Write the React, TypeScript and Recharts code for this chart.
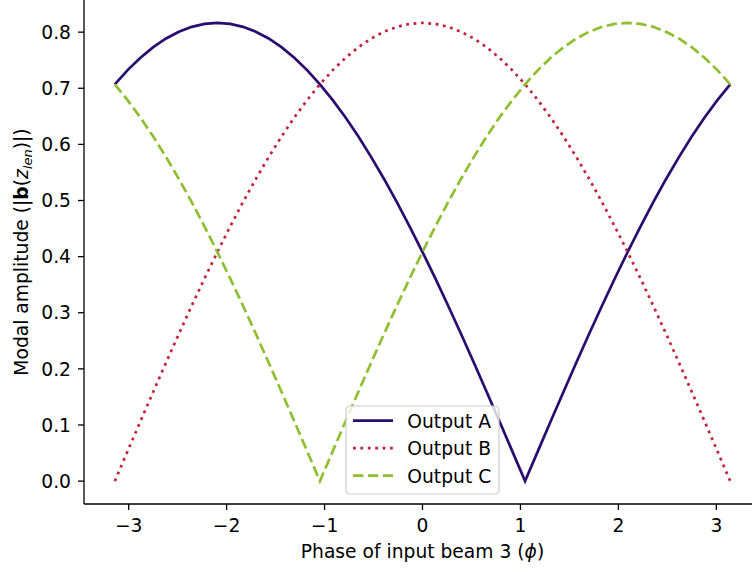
import React from "react";
import { LineChart, Line, XAxis, YAxis, Label } from "recharts";

const FONT = "'DejaVu Sans', 'Noto Sans', sans-serif";
const FS = 18.7;

// phase samples over [-π, π]
const phase = [
  -3.1416, -3.0107, -2.8798, -2.7489, -2.618, -2.4871, -2.3562, -2.2253, -2.0944, -1.9635,
  -1.8326, -1.7017, -1.5708, -1.4399, -1.309, -1.1781, -1.0472, -0.9163, -0.7854, -0.6545,
  -0.5236, -0.3927, -0.2618, -0.1309, 0, 0.1309, 0.2618, 0.3927, 0.5236, 0.6545,
  0.7854, 0.9163, 1.0472, 1.1781, 1.309, 1.4399, 1.5708, 1.7017, 1.8326, 1.9635,
  2.0944, 2.2253, 2.3562, 2.4871, 2.618, 2.7489, 2.8798, 3.0107, 3.1416,
];

const outputA = [
  0.7071, 0.7323, 0.7543, 0.7732, 0.7887, 0.8008, 0.8095, 0.8148, 0.8165, 0.8148,
  0.8095, 0.8008, 0.7887, 0.7732, 0.7543, 0.7323, 0.7071, 0.6789, 0.6478, 0.6139,
  0.5774, 0.5384, 0.4971, 0.4536, 0.4082, 0.3611, 0.3125, 0.2625, 0.2113, 0.1593,
  0.1066, 0.0534, 0, 0.0534, 0.1066, 0.1593, 0.2113, 0.2625, 0.3125, 0.3611,
  0.4082, 0.4536, 0.4971, 0.5384, 0.5774, 0.6139, 0.6478, 0.6789, 0.7071,
];

const outputB = [
  0, 0.0534, 0.1066, 0.1593, 0.2113, 0.2625, 0.3125, 0.3611, 0.4082, 0.4536,
  0.4971, 0.5384, 0.5774, 0.6139, 0.6478, 0.6789, 0.7071, 0.7323, 0.7543, 0.7732,
  0.7887, 0.8008, 0.8095, 0.8148, 0.8165, 0.8148, 0.8095, 0.8008, 0.7887, 0.7732,
  0.7543, 0.7323, 0.7071, 0.6789, 0.6478, 0.6139, 0.5774, 0.5384, 0.4971, 0.4536,
  0.4082, 0.3611, 0.3125, 0.2625, 0.2113, 0.1593, 0.1066, 0.0534, 0,
];

const outputC = [
  0.7071, 0.6789, 0.6478, 0.6139, 0.5774, 0.5384, 0.4971, 0.4536, 0.4082, 0.3611,
  0.3125, 0.2625, 0.2113, 0.1593, 0.1066, 0.0534, 0, 0.0534, 0.1066, 0.1593,
  0.2113, 0.2625, 0.3125, 0.3611, 0.4082, 0.4536, 0.4971, 0.5384, 0.5774, 0.6139,
  0.6478, 0.6789, 0.7071, 0.7323, 0.7543, 0.7732, 0.7887, 0.8008, 0.8095, 0.8148,
  0.8165, 0.8148, 0.8095, 0.8008, 0.7887, 0.7732, 0.7543, 0.7323, 0.7071,
];

const xTicks = [-3, -2, -1, 0, 1, 2, 3];
const yTicks = [0, 0.1, 0.2, 0.3, 0.4, 0.5, 0.6, 0.7, 0.8];

const series = [
  { key: "a", name: "Output A", color: "#2b0c6e", dash: undefined as string | undefined },
  { key: "b", name: "Output B", color: "#c4213f", dash: "2.8 4.6" },
  { key: "c", name: "Output C", color: "#8dbf31", dash: "10.4 4.5" },
];

const rows = phase.map((p, i) => ({ phase: p, a: outputA[i], b: outputB[i], c: outputC[i] }));

const axisStyle = { stroke: "#000", strokeWidth: 1.3 };
const tickStyle = { fill: "#000", fontSize: FS, fontFamily: FONT };

function XTitle() {
  return (
    <text x={422.5} y={558} textAnchor="middle" fontFamily={FONT} fontSize={FS} fill="#000">
      Phase of input beam 3 (<tspan fontStyle="italic">ϕ</tspan>)
    </text>
  );
}

function YTitle() {
  return (
    <text
      x={28}
      y={252}
      transform="rotate(-90, 28, 252)"
      textAnchor="middle"
      fontFamily={FONT}
      fontSize={FS}
      fill="#000"
    >
      Modal amplitude (|<tspan fontWeight="bold">b</tspan>(<tspan fontStyle="italic">z</tspan>
      <tspan fontStyle="italic" fontSize={FS * 0.7} dy={4}>len</tspan>
      <tspan dy={-4}>)|)</tspan>
    </text>
  );
}

function LegendBox() {
  return (
    <svg width={156} height={92} style={{ position: "absolute", left: 345, top: 405 }}>
      <rect x={1} y={1} width={153} height={88} rx={4} fill="#fff" fillOpacity={0.8} stroke="#cccccc" strokeWidth={1.2} />
      {series.map((s, i) => {
        const cy = 15.7 + i * 27.5;
        return (
          <g key={s.key}>
            <line x1={8} x2={48} y1={cy} y2={cy} stroke={s.color} strokeWidth={2.7} strokeDasharray={s.dash} />
            <text x={62.3} y={cy + 6.8} fontFamily={FONT} fontSize={FS} fill="#000">
              {s.name}
            </text>
          </g>
        );
      })}
    </svg>
  );
}

export default function App() {
  return (
    <div style={{ position: "fixed", left: 0, top: 0, width: 752, height: 572, overflow: "hidden", background: "#fff" }}>
      <LineChart width={770} height={572} data={rows} margin={{ top: 0, right: 9, bottom: 0, left: 0 }}>
        <XAxis
          dataKey="phase"
          type="number"
          domain={[-3.456, 3.456]}
          ticks={xTicks}
          height={68}
          tickSize={6}
          tickMargin={9}
          axisLine={axisStyle}
          tickLine={axisStyle}
          tick={tickStyle}
          tickFormatter={(v: number) => String(v).replace("-", "\u2212")}
        >
          <Label content={() => <XTitle />} />
        </XAxis>
        <XAxis
          xAxisId="top"
          dataKey="phase"
          type="number"
          orientation="top"
          domain={[-3.456, 3.456]}
          height={0}
          tick={false}
          tickLine={false}
          axisLine={axisStyle}
        />
        <YAxis
          type="number"
          domain={[-0.0408, 0.8573]}
          ticks={yTicks}
          width={84}
          tickSize={6}
          tickMargin={7}
          axisLine={axisStyle}
          tickLine={axisStyle}
          tick={tickStyle}
          tickFormatter={(v: number) => v.toFixed(1)}
        >
          <Label content={() => <YTitle />} />
        </YAxis>
        {series.map((s) => (
          <Line
            key={s.key}
            dataKey={s.key}
            name={s.name}
            type="linear"
            stroke={s.color}
            strokeWidth={2.7}
            strokeDasharray={s.dash}
            dot={false}
            activeDot={false}
            isAnimationActive={false}
          />
        ))}
      </LineChart>
      <LegendBox />
    </div>
  );
}
